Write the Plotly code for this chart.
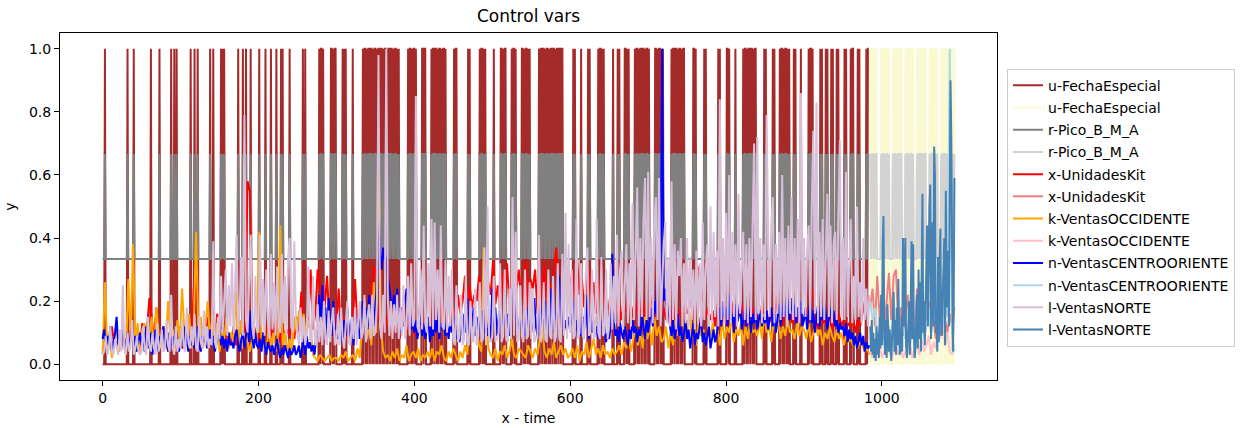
import numpy as np
import plotly.graph_objects as go

# ---------------- data ----------------
TEST_START = 985      # first time index of the test part
STEP_NORTE_CENTRO = 2  # train sampling step for NORTE / CENTROORIENTE
STEP_KIT_OCC = 3       # train sampling step for UnidadesKit / OCCIDENTE
STEP_TEST_MINOR = 3    # test sampling step for the three minor test series

# u-FechaEspecial (0/1) and r-Pico codes: ints = run of code 0, strings = explicit codes
FECHA_TRAIN_SEGMENTS = [
    3, "1", 28, "1", 7, "1", 21, "1", 10, "1", 14, "10001001", 17, "1000010001", 15, "10001", 9, "10101",
    17, "1", 5, "10001000001", 10, "1", 7, "1", 6, "1", 6, "1", 5, "101", 8, "1", 16, "1001", 17,
    "1011010", 8, "1101011", 8, "10101", 8, "1", 12,
    "1011010110" "1101011010" "1101101011" "0101101101" "0110101", 11,
    "1011010110" "1", 7, "11011", 7, "1011011010" "110101101", 10,
    "1011", 14, "101", 12, "10110101", 10, "1", 8, "1101011", 7,
    "101101", 7, "1101011010" "1", 11, "1011011010" "1101011011" "0101101101" "1", 13,
    "101", 7, "1", 8, "101", 10, "10110101", 11, "1", 5, "101", 6,
    "110101", 7, "1011010110" "110101101", 7, "1101011010" "1", 10,
    "1011011010" "1101011", 11, "1101", 10, "101", 15, "101", 8, "1101", 7,
    "1", 9, "1011010110" "1101011", 10, "101",
    8, "101", 6, "1011010110" "101", 5, "101", 6, "1", 9, "1011010", 8, "101", 4,
    "101", 4, "101", 4, "101", 7, "101", 5, "1011", 5, "101", 8, "1011"]
FECHA_TEST_CODES = ("1011010110" "0000101101" "0110100001" "0110101101" "1000010110" "1011010000"
                    "1011011010" "1100001011" "0101101000" "0101101101" "010110101")

PICO_LEVELS = [1 / 3, 2 / 3]
PICO_TRAIN_SEGMENTS = [
    3, "1", 28, "1", 7, "1", 21, "0", 10, "1", 14, "10001001", 17, "1000010001", 15, "10000", 9, "10101",
    17, "1", 5, "10001000001", 10, "1", 7, "1", 6, "1", 6, "1", 5, "101", 8, "1", 16, "1001", 17,
    "1011010", 8, "1101011", 8, "10101", 8, "1", 12,
    "1011010110" "1101011010" "1101101011" "0101101101" "0110101", 11,
    "1011010110" "1", 7, "11011", 7, "1011011010" "110101101", 10,
    "1011", 14, "101", 12, "10110101", 10, "1", 8, "1101011", 7,
    "101101", 7, "1101011010" "1", 11, "1011011010" "1101011011" "0101101101" "1", 13,
    "101", 7, "1", 8, "101", 10, "10110101", 11, "1", 5, "101", 6,
    "110101", 7, "1011010110" "110101101", 7, "1101011010" "1", 10,
    "1011011010" "1101011", 11, "1101", 10, "101", 15, "101", 8, "1101", 7,
    "1", 9, "1011010110" "1101011", 10, "101",
    8, "101", 6, "1011010110" "101", 5, "101", 6, "1", 9, "1011010", 8, "101", 4,
    "101", 4, "101", 4, "101", 7, "101", 5, "1011", 5, "101", 8, "1011"]
PICO_TEST_CODES = ("1011010110" "0000101101" "0110100001" "0110101101" "1000010110" "1011010000"
                   "1011011010" "1100001011" "0101101000" "0101101101" "010110101")

# sales series in hundredths
NORTE_TRAIN = [  # every 2 indices, 0..984
    3, 4, 9, 3, 5, 12, 4, 3, 8, 5, 3, 11, 4, 25, 5, 3, 10, 4, 6, 14, 3, 5, 9, 4, 3,
    4, 12, 5, 3, 15, 6, 4, 10, 5, 3, 13, 4, 6, 11, 4, 5, 14, 6, 4, 22, 5, 3, 12, 4, 8,
    5, 14, 6, 4, 18, 7, 5, 12, 6, 16, 5, 4, 15, 7, 5, 17, 6, 12, 5, 8, 6, 39, 7, 5, 15,
    8, 28, 10, 22, 30, 9, 25, 12, 32, 10, 27, 41, 11, 18, 34, 9, 79, 14, 10, 30, 41, 12, 8, 28, 11,
    10, 41, 12, 27, 9, 30, 14, 8, 35, 11, 26, 9, 31, 12, 10, 35, 13, 28, 9, 33, 40, 12, 10, 39, 14,
    9, 6, 18, 7, 15, 6, 10, 31, 8, 7, 28, 9, 6, 19, 7, 15, 6, 20, 8, 6, 17, 7, 14, 18, 6,
    7, 16, 6, 18, 8, 5, 14, 20, 7, 6, 15, 8, 18, 6, 14, 20, 8, 10, 22, 7, 15, 19, 8, 22, 9,
    10, 20, 98, 12, 8, 22, 10, 100, 21, 9, 20, 8, 19, 10, 22, 8, 18, 9, 25, 8, 12, 28, 9, 32, 12,
    14, 85, 12, 10, 30, 11, 44, 13, 10, 32, 12, 46, 11, 45, 14, 30, 10, 44, 12, 11, 33, 10, 28, 12, 30,
    8, 6, 25, 7, 9, 22, 6, 8, 28, 7, 6, 20, 8, 7, 24, 6, 9, 26, 7, 8, 37, 6, 50, 8, 7,
    9, 28, 7, 8, 10, 32, 7, 9, 30, 8, 7, 24, 8, 53, 9, 42, 7, 8, 25, 9, 7, 30, 8, 9, 26,
    8, 24, 7, 9, 8, 41, 7, 9, 26, 8, 7, 30, 9, 8, 28, 7, 9, 32, 8, 7, 35, 9, 48, 8, 38,
    10, 30, 8, 9, 46, 8, 10, 32, 9, 8, 28, 37, 9, 10, 30, 8, 9, 46, 10, 8, 34, 9, 10, 30, 8,
    12, 32, 11, 28, 13, 41, 12, 30, 36, 11, 28, 38, 13, 32, 12, 51, 14, 36, 56, 12, 40, 15, 45, 59, 14,
    61, 15, 40, 13, 45, 53, 14, 59, 12, 26, 38, 45, 13, 34, 12, 58, 14, 38, 11, 36, 28, 40, 12, 32, 13,
    40, 12, 34, 14, 30, 11, 36, 13, 32, 12, 45, 14, 30, 38, 12, 50, 13, 42, 15, 36, 12, 84, 14, 40, 13,
    48, 14, 60, 13, 42, 15, 38, 12, 54, 16, 30, 42, 14, 38, 13, 40, 15, 44, 70, 14, 72, 16, 40, 13, 38,
    14, 79, 40, 15, 44, 53, 13, 38, 16, 42, 14, 60, 15, 40, 12, 44, 16, 53, 14, 40, 15, 46, 13, 86, 16,
    40, 15, 36, 44, 14, 50, 74, 16, 83, 13, 42, 15, 46, 14, 40, 54, 15, 44, 13, 38, 42, 14, 46, 71, 15,
    40, 14, 61, 15, 30, 46, 13, 28, 14, 50, 15, 26, 13, 40, 14, 24, 12, 22]
CENTRO_TRAIN = [  # every 2 indices, 0..984
    8, 11, 5, 9, 6, 12, 4, 7, 10, 15, 6, 9, 5, 11, 7, 4, 10, 6, 8, 12, 5, 9, 4, 7, 10,
    6, 9, 4, 12, 7, 5, 10, 3, 8, 11, 6, 4, 9, 7, 12, 5, 8, 4, 10, 6, 9, 5, 11, 7, 4,
    7, 10, 5, 12, 8, 4, 9, 6, 11, 5, 8, 12, 6, 4, 9, 7, 10, 5, 8, 11, 6, 9, 4, 7, 10,
    12, 6, 9, 5, 8, 4, 10, 6, 7, 5, 9, 11, 6, 4, 8, 10, 5, 9, 14, 7, 17, 8, 5, 10, 6,
    5, 8, 4, 10, 6, 3, 7, 5, 4, 6, 3, 5, 8, 4, 2, 5, 3, 6, 4, 2, 5, 3, 4, 6, 3,
    4, 6, 2, 5, 8, 3, 9, 5, 7, 4, 6, 3, 8, 14, 22, 10, 25, 12, 18, 8, 21, 14, 9, 20, 11,
    12, 8, 16, 10, 7, 14, 9, 18, 11, 8, 15, 6, 17, 10, 14, 8, 12, 20, 14, 18, 11, 22, 15, 19, 12,
    18, 25, 54, 35, 30, 37, 33, 34, 28, 24, 20, 18, 22, 16, 24, 14, 10, 18, 12, 20, 24, 14, 18, 11, 15,
    10, 14, 8, 12, 16, 9, 13, 8, 11, 15, 7, 12, 9, 14, 10, 17, 8, 13, 11, 15, 9, 12, 8, 14, 10,
    12, 15, 8, 11, 7, 13, 9, 16, 10, 21, 8, 14, 12, 18, 9, 15, 11, 13, 8, 17, 10, 14, 9, 12, 8,
    24, 12, 18, 9, 15, 20, 8, 13, 18, 11, 16, 9, 22, 27, 14, 20, 8, 12, 16, 10, 14, 9, 18, 12, 15,
    10, 14, 21, 12, 9, 16, 11, 18, 13, 20, 9, 15, 12, 24, 10, 17, 14, 29, 27, 13, 18, 10, 14, 11, 15,
    12, 16, 20, 10, 14, 8, 12, 9, 15, 11, 22, 13, 8, 17, 10, 14, 9, 12, 8, 11, 14, 9, 12, 7, 10,
    8, 12, 35, 14, 9, 11, 7, 13, 10, 8, 12, 9, 6, 11, 8, 14, 10, 12, 7, 11, 9, 16, 12, 8, 14,
    10, 14, 18, 12, 20, 16, 31, 30, 22, 100, 20, 24, 16, 18, 12, 9, 14, 8, 11, 16, 9, 12, 7, 10, 14,
    8, 11, 5, 9, 13, 6, 10, 8, 12, 15, 7, 10, 6, 9, 12, 5, 8, 11, 7, 9, 14, 18, 12, 20, 15,
    18, 12, 22, 14, 16, 10, 19, 13, 15, 20, 11, 14, 17, 12, 19, 15, 10, 16, 13, 18, 11, 14, 17, 12, 15,
    13, 17, 11, 15, 18, 12, 16, 10, 14, 19, 12, 17, 20, 15, 22, 18, 14, 21, 16, 19, 13, 18, 15, 20, 12,
    14, 18, 11, 16, 20, 13, 17, 10, 15, 19, 12, 18, 14, 20, 16, 11, 15, 18, 13, 17, 12, 14, 10, 13, 11,
    12, 9, 13, 7, 11, 8, 10, 6, 9, 5, 8, 10, 6, 9, 4, 7, 5, 6]
OCCIDENTE_TRAIN = [  # every 3 indices, 0..984
    3, 26, 5, 10, 2, 8, 12, 4, 9, 6, 3, 27, 8, 38, 6, 13, 4, 11, 13, 5,
    8, 15, 4, 18, 9, 6, 12, 5, 20, 8, 11, 4, 14, 7, 24, 10, 6, 16, 5, 12,
    42, 9, 15, 5, 12, 20, 7, 16, 6, 13, 4, 11, 8, 15, 5, 10, 7, 23, 6, 14,
    5, 10, 7, 4, 8, 6, 9, 42, 5, 8, 3, 12, 6, 10, 4, 9, 44, 6, 10, 4,
    8, 3, 15, 10, 17, 12, 16, 9, 14, 11, 3, 2, 1, 3, 2, 1, 2, 3, 1, 2,
    2, 1, 3, 2, 4, 1, 2, 3, 1, 5, 2, 14, 20, 8, 12, 6, 26, 10, 75, 12,
    4, 2, 3, 1, 4, 2, 5, 1, 3, 2, 6, 1, 3, 4, 2, 5, 1, 3, 2, 4,
    2, 5, 1, 4, 3, 6, 2, 1, 4, 2, 5, 3, 1, 4, 2, 6, 3, 14, 11, 17,
    12, 6, 4, 37, 18, 5, 3, 2, 5, 1, 4, 3, 6, 2, 4, 8, 3, 2, 5, 4,
    3, 2, 6, 4, 2, 5, 3, 8, 12, 4, 2, 5, 3, 7, 2, 4, 6, 3, 5, 2,
    3, 5, 2, 6, 1, 4, 3, 7, 2, 5, 8, 3, 5, 2, 6, 3, 4, 2, 5, 3,
    4, 6, 3, 7, 5, 9, 4, 8, 12, 6, 10, 5, 15, 8, 12, 6, 15, 9, 12, 7,
    8, 12, 5, 10, 6, 14, 9, 11, 7, 13, 10, 17, 8, 12, 6, 15, 9, 11, 7, 10,
    9, 13, 7, 11, 6, 14, 8, 12, 10, 15, 7, 11, 9, 13, 6, 12, 8, 14, 10, 11,
    9, 14, 8, 16, 10, 12, 7, 13, 11, 15, 8, 12, 9, 14, 10, 11, 8, 13, 9, 12,
    11, 8, 13, 7, 10, 12, 9, 11, 6, 10, 8, 12, 9, 7, 11, 8, 10, 6, 9, 7,
    8, 6, 9, 5, 7, 6, 4, 5, 3]
UNIDADES_TRAIN = [  # every 3 indices, 0..984
    5, 8, 4, 9, 12, 6, 7, 4, 10, 6, 8, 5, 11, 7, 4, 9, 6, 13, 8, 11,
    21, 15, 8, 18, 6, 9, 12, 5, 8, 11, 6, 10, 7, 12, 5, 9, 8, 13, 6, 24,
    29, 10, 6, 12, 8, 15, 9, 18, 7, 16, 11, 6, 13, 8, 10, 7, 12, 6, 9, 11,
    8, 12, 58, 55, 14, 9, 12, 7, 10, 8, 13, 6, 11, 9, 17, 10, 7, 12, 8, 11,
    9, 13, 8, 15, 10, 23, 12, 9, 14, 30, 11, 16, 30, 24, 12, 18, 28, 14, 10, 16,
    12, 24, 10, 15, 8, 13, 9, 14, 27, 11, 15, 9, 18, 12, 16, 25, 31, 28, 14, 12,
    10, 16, 12, 9, 18, 11, 14, 8, 13, 22, 10, 15, 12, 18, 9, 14, 20, 11, 16, 13,
    15, 22, 24, 18, 12, 20, 15, 17, 24, 13, 18, 11, 22, 16, 20, 28, 14, 25, 18, 22,
    20, 28, 16, 30, 18, 26, 22, 33, 19, 25, 17, 29, 21, 32, 18, 27, 15, 24, 30, 20,
    22, 33, 18, 27, 24, 30, 16, 28, 21, 32, 19, 26, 22, 30, 37, 25, 20, 29, 23, 31,
    24, 30, 19, 33, 22, 27, 18, 25, 30, 20, 26, 16, 22, 28, 19, 24, 15, 21, 18, 23,
    16, 21, 14, 19, 17, 22, 13, 18, 20, 15, 17, 21, 14, 19, 16, 22, 15, 18, 20, 16,
    18, 14, 20, 16, 12, 19, 15, 17, 13, 21, 16, 18, 24, 14, 19, 31, 26, 20, 15, 18,
    14, 17, 12, 19, 15, 13, 18, 11, 16, 20, 14, 12, 17, 15, 19, 13, 16, 12, 18, 14,
    16, 12, 19, 14, 17, 13, 15, 18, 22, 14, 16, 12, 19, 15, 17, 13, 16, 12, 18, 15,
    14, 18, 12, 24, 22, 15, 11, 16, 13, 14, 12, 17, 11, 15, 13, 16, 12, 14, 11, 13,
    12, 15, 10, 14, 12, 16, 20, 22, 18]

# test part: minor series every 3 indices (985..1093), NORTE every index
UNIDADES_TEST = [18, 24, 12, 28, 15, 22, 10, 20, 29, 14, 28, 30, 12, 18, 9, 15, 22, 10, 14, 8,
                 24, 12, 16, 9, 13, 20, 10, 15, 8, 12, 18, 9, 14, 10, 16, 12, 18]
OCCIDENTE_TEST = [4, 2, 5, 3, 6, 2, 4, 3, 5, 2, 4, 6, 3, 5, 2, 4, 3, 6, 2, 5,
                  7, 3, 8, 4, 6, 9, 3, 7, 5, 12, 8, 15, 6, 10, 4, 3, 5]
CENTRO_TEST = [20, 14, 18, 8, 12, 6, 10, 7, 12, 5, 9, 14, 7, 10, 12, 8, 11, 6, 13, 9,
               14, 10, 16, 8, 12, 18, 10, 20, 14, 9, 16, 12, 22, 15, 100, 10, 4]
NORTE_TEST = [
    12, 4, 14, 3, 10, 2, 8, 1, 12, 3,
    10, 2, 15, 5, 22, 6, 38, 47, 9, 3,
    14, 2, 19, 8, 4, 11, 2, 1, 8, 15,
    23, 4, 14, 3, 18, 6, 27, 10, 3, 6,
    15, 4, 40, 12, 34, 40, 6, 2, 6, 12,
    20, 3, 26, 39, 8, 38, 10, 2, 5, 14,
    22, 5, 30, 8, 26, 4, 40, 54, 10, 20,
    6, 24, 33, 44, 12, 38, 50, 57, 8, 30,
    45, 12, 69, 60, 10, 18, 4, 34, 7, 32,
    43, 9, 10, 22, 35, 40, 6, 55, 18, 28,
    36, 12, 52, 90, 72, 20, 4, 15, 59]

X_TICKS = [0, 200, 400, 600, 800, 1000]
Y_TICKS = [0.0, 0.2, 0.4, 0.6, 0.8, 1.0]
Y_TICK_LABELS = ["0.0", "0.2", "0.4", "0.6", "0.8", "1.0"]


def expand_codes(segments):
    out = []
    for s in segments:
        if isinstance(s, int):
            out.extend([0] * s)
        else:
            out.extend(int(c) for c in s)
    return out


fecha_train = np.array(expand_codes(FECHA_TRAIN_SEGMENTS), dtype=float)
fecha_test = np.array([int(c) for c in FECHA_TEST_CODES], dtype=float)
pico_train = np.array([PICO_LEVELS[c] for c in expand_codes(PICO_TRAIN_SEGMENTS)])
pico_test = np.array([PICO_LEVELS[int(c)] for c in PICO_TEST_CODES])


def idx(vals, start, step):
    return start + np.arange(len(vals)) * step


def pct(vals):
    return np.array(vals, dtype=float) / 100.0


series = [
    ("u-FechaEspecial", idx(fecha_train, 0, 1), fecha_train, "#a52a2a"),
    ("u-FechaEspecial", idx(fecha_test, TEST_START, 1), fecha_test, "#fafad2"),
    ("r-Pico_B_M_A", idx(pico_train, 0, 1), pico_train, "#808080"),
    ("r-Pico_B_M_A", idx(pico_test, TEST_START, 1), pico_test, "#d3d3d3"),
    ("x-UnidadesKit", idx(UNIDADES_TRAIN, 0, STEP_KIT_OCC), pct(UNIDADES_TRAIN), "#ff0000"),
    ("x-UnidadesKit", idx(UNIDADES_TEST, TEST_START, STEP_TEST_MINOR), pct(UNIDADES_TEST), "#f08080"),
    ("k-VentasOCCIDENTE", idx(OCCIDENTE_TRAIN, 0, STEP_KIT_OCC), pct(OCCIDENTE_TRAIN), "#ffa500"),
    ("k-VentasOCCIDENTE", idx(OCCIDENTE_TEST, TEST_START, STEP_TEST_MINOR), pct(OCCIDENTE_TEST), "#ffc0cb"),
    ("n-VentasCENTROORIENTE", idx(CENTRO_TRAIN, 0, STEP_NORTE_CENTRO), pct(CENTRO_TRAIN), "#0000ff"),
    ("n-VentasCENTROORIENTE", idx(CENTRO_TEST, TEST_START, STEP_TEST_MINOR), pct(CENTRO_TEST), "#add8e6"),
    ("l-VentasNORTE", idx(NORTE_TRAIN, 0, STEP_NORTE_CENTRO), pct(NORTE_TRAIN), "#d8bfd8"),
    ("l-VentasNORTE", idx(NORTE_TEST, TEST_START, 1), pct(NORTE_TEST), "#4682b4"),
]

FONT = "DejaVu Sans"
fig = go.Figure()
for i, (name, xs, ys, col) in enumerate(series):
    fig.add_trace(go.Scatter(x=xs, y=ys, mode="lines", name=name,
                             line=dict(color=col, width=2),
                             legendgroup=f"g{i}"))

x_max = TEST_START + len(NORTE_TEST) - 1
pad = 0.05 * x_max

fig.update_layout(
    width=1248, height=428,
    margin=dict(l=60, r=251, t=33, b=48),
    paper_bgcolor="white", plot_bgcolor="white",
    font=dict(family=FONT, size=14, color="black"),
    title=dict(text="Control vars", x=0.5, xref="paper", xanchor="center",
               y=1 - 16 / 428, yref="container", yanchor="middle",
               font=dict(family=FONT, size=17, color="black")),
    showlegend=True,
    legend=dict(x=1.0107, y=0.897, xanchor="left", yanchor="top",
                bordercolor="#cccccc", borderwidth=1, bgcolor="white",
                font=dict(family=FONT, size=14, color="black"),
                tracegroupgap=1),
    xaxis=dict(range=[-pad, x_max + pad], tickvals=X_TICKS, ticks="outside", ticklen=5,
               tickcolor="black", showline=True, linecolor="black", linewidth=1, mirror=True,
               showgrid=False, zeroline=False, automargin=False,
               title=dict(text="x - time", standoff=8, font=dict(family=FONT, size=14)),
               tickfont=dict(family=FONT, size=14)),
    yaxis=dict(range=[-0.05, 1.05], tickvals=Y_TICKS, ticktext=Y_TICK_LABELS, ticks="outside",
               ticklen=5, tickcolor="black", showline=True, linecolor="black", linewidth=1,
               mirror=True, showgrid=False, zeroline=False, automargin=False,
               title=dict(text="y", standoff=10, font=dict(family=FONT, size=14)),
               tickfont=dict(family=FONT, size=14)),
)

fig.write_html("out.html", config={"displayModeBar": False})
